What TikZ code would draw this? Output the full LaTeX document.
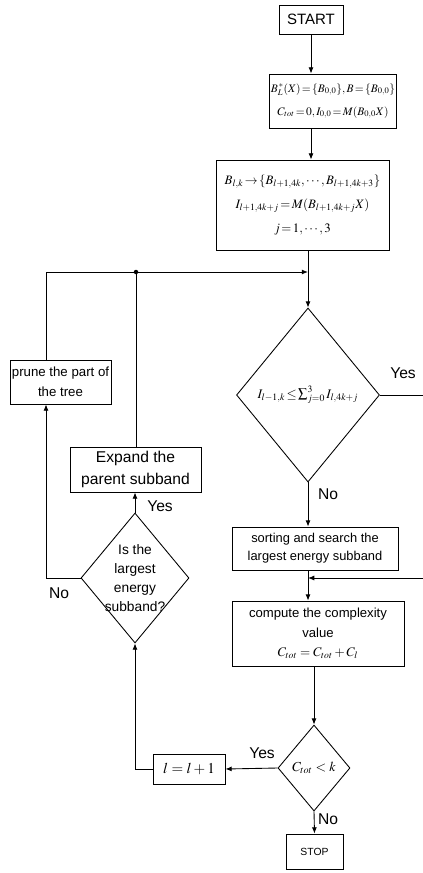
\documentclass[tikz,border=0pt]{standalone}
\usepackage{mathptmx}
\usepackage[no-math]{fontspec}
\setmainfont{Liberation Sans}
\usetikzlibrary{shapes.geometric, arrows.meta}
\newcommand{\tightmath}{\thickmuskip=2mu\relax\medmuskip=1mu\relax}

\begin{document}
\begin{tikzpicture}[x=0.8pt, y=-0.8pt, line width=0.7pt, >={Latex[length=5pt,width=4pt]},
    box/.style={draw, rectangle, align=center, inner sep=1pt, font=\fontsize{10.3}{14.5}\selectfont},
    tight/.style={font=\fontsize{10.3}{19}\selectfont, execute at begin node=\tightmath},
    decision/.style={draw, diamond, align=center, inner sep=0pt, font=\fontsize{11}{15}\selectfont},
    lbl/.style={font=\fontsize{12.5}{14}\selectfont}]
    \useasboundingbox (0,0) rectangle (422,873);

    \node[box, minimum width=51.2pt, minimum height=23.2pt, font=\fontsize{12}{14}\selectfont] (start) at (311,19.5) {START};
    \node[box, tight, minimum width=92.8pt, minimum height=43.2pt, font=\fontsize{9.2}{18.5}\selectfont] (init) at (333,101) {$B_L^{\,*}(X)=\{B_{0,0}\},B=\{B_{0,0}\}$\\$C_{tot}=0,I_{0,0}=M(B_{0,0}X)$};
    \node[box, tight, minimum width=138.4pt, minimum height=72pt] (split) at (302.5,205) {$B_{l,k}\rightarrow\{B_{l+1,4k},\cdots,B_{l+1,4k+3}\}$\\$I_{l+1,4k+j}=M(B_{l+1,4k+j}X)$\\$j=1,\cdots,3$};
    \node[decision, tight, aspect=0.82, minimum width=114.4pt, minimum height=139.2pt, font=\fontsize{10.5}{14}\selectfont] (test) at (308,395) {$I_{l-1,k}\le\sum_{j=0}^{3}I_{l,4k+j}$};
    \node[box, minimum width=80.8pt, minimum height=35.2pt, font=\fontsize{10.6}{16}\selectfont] (prune) at (60.5,382) {prune the part of\\the tree};
    \node[box, minimum width=104.8pt, minimum height=36pt, font=\fontsize{12.5}{17}\selectfont] (expand) at (135.5,469.5) {Expand the\\parent subband};
    \node[decision, aspect=0.83, inner sep=-10pt, minimum width=86.4pt, minimum height=104pt] (largest) at (135,578) {Is the\\largest\\energy\\subband?};
    \node[box, minimum width=132.8pt, minimum height=34.4pt] (sort) at (315,548.5) {sorting and search the\\largest energy subband};
    \node[box, minimum width=137.6pt, minimum height=52pt, font=\fontsize{10.5}{15.5}\selectfont] (compute) at (318,633.5) {compute the complexity\\value\\$C_{tot}=C_{tot}+C_l$};
    \node[decision, aspect=0.84, minimum width=57.6pt, minimum height=68.8pt] (cmp) at (314,768) {$C_{tot}<k$};
    \node[box, minimum width=57.6pt, minimum height=24pt, font=\fontsize{12}{14}\selectfont] (incr) at (189,769) {$l=l+1$};
    \node[box, minimum width=45.6pt, minimum height=28pt, font=\fontsize{8.3}{10}\selectfont] (stop) at (314.5,851.5) {STOP};

    \coordinate (fbl) at (46,272);
    \coordinate (fbj) at (136,272);
    \coordinate (yr) at (430,395);
    \coordinate (yb) at (430,578);

    \draw[->] (start) -- (start |- init.north);
    \draw[->] (start |- init.south) -- (start |- split.north);
    \draw[->] (test |- split.south) -- (test.north);
    \draw[->] (prune.north -| fbl) -- (fbl) -- (fbl -| test);
    \draw (expand.north -| fbj) -- (fbj);
    \fill (fbj) circle (1.8pt);
    \draw (test.east) -- (yr) -- (yb);
    \draw[->] (yb) -- (yb -| test);
    \draw[->] (test.south) -- (test |- sort.north);
    \draw[->] (test |- sort.south) -- (test |- compute.north);
    \draw[->] (cmp |- compute.south) -- (cmp.north);
    \draw[->] (cmp.west) -- (incr.east);
    \draw[->] (incr.west) -| (largest.south);
    \draw[->] (largest.north) -- (largest |- expand.south);
    \draw[->] (largest.west) -| (prune.south -| fbl);
    \draw[->] (cmp.south) -- (stop.north);

    \node[lbl] (yes1) at (403,373) {Yes};
    \node[lbl] (no1) at (328,494) {No};
    \node[lbl] (yes2) at (160,506) {Yes};
    \node[lbl] (no2) at (59,593) {No};
    \node[lbl] (yes3) at (262,753) {Yes};
    \node[lbl] (no3) at (328,819) {No};
\end{tikzpicture}
\end{document}
